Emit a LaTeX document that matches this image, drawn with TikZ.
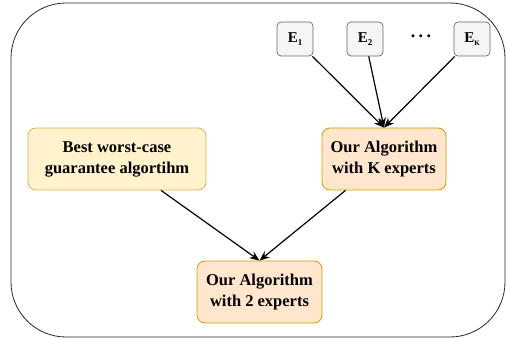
\documentclass[tikz,border=0pt]{standalone}
\usepackage{fontspec}
\setmainfont{Liberation Serif}
\usetikzlibrary{arrows.meta}
\definecolor{yfill}{HTML}{FFF2CC}
\definecolor{ydraw}{HTML}{D6B656}
\definecolor{ofill}{HTML}{FFE6CC}
\definecolor{odraw}{HTML}{D79B00}
\definecolor{gfill}{HTML}{F5F5F5}
\definecolor{gdraw}{HTML}{666666}
\begin{document}
\begin{tikzpicture}[x=1pt,y=-1pt,
  algbox/.style={rounded corners=8pt, line width=0.8pt, minimum width=#1, minimum height=62pt,
    align=center, font=\fontsize{16.5}{21}\selectfont\bfseries, inner sep=0pt},
  ybox/.style={algbox=178pt, fill=yfill, draw=ydraw},
  obox/.style={algbox=#1, fill=ofill, draw=odraw},
  ebox/.style={rounded corners=4pt, line width=0.7pt, fill=gfill, draw=gdraw,
    minimum width=36pt, minimum height=34pt, inner sep=0pt, font=\fontsize{15}{17}\selectfont\bfseries},
  arr/.style={line width=1.2pt, -{Stealth[length=10pt,width=8pt]}}]
\useasboundingbox (0,0) rectangle (506,339);
\draw[line width=0.8pt, black!85, rounded corners=55pt] (11,3) rectangle (505,337);
\node[ebox] (e1) at (295,39) {E{\fontsize{9}{9}\selectfont\raisebox{-2.5pt}{1}}};
\node[ebox] (e2) at (365,39) {E{\fontsize{9}{9}\selectfont\raisebox{-2.5pt}{2}}};
\node (dots) at (421,36) {\fontsize{18}{18}\selectfont\bfseries .\hspace{3.5pt}.\hspace{3.5pt}.};
\node[ebox] (ek) at (472,39) {E{\fontsize{7}{7}\selectfont\raisebox{-2.5pt}{K}}};
\node[ybox] (best) at (117,159) {Best worst-case\\guarantee algortihm};
\node[obox=124pt] (ok) at (384,159) {Our Algorithm\\with K experts};
\node[obox=125pt] (o2) at (259.5,292) {Our Algorithm\\with 2 experts};
\draw[arr] (e1) -- (ok.north);
\draw[arr] (e2) -- (ok.north);
\draw[arr] (ek) -- (ok.north);
\draw[arr] (best) -- (o2.north);
\draw[arr] (ok) -- (o2.north);
\end{tikzpicture}
\end{document}
